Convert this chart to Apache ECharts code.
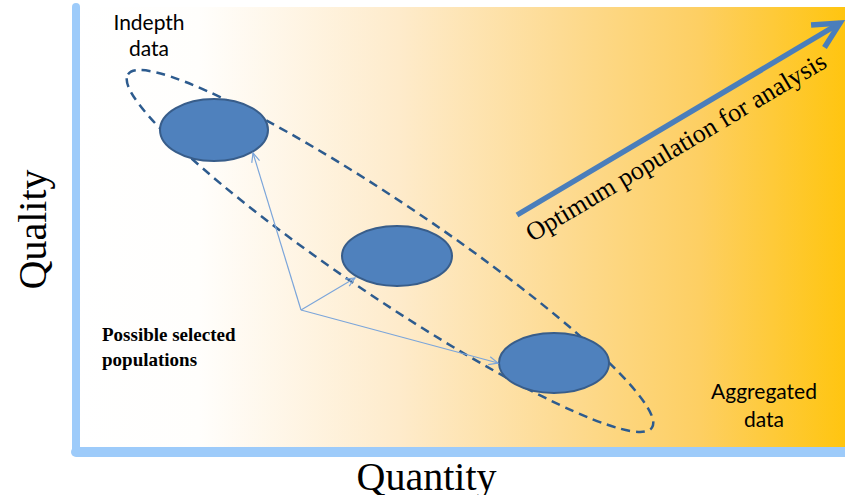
<!DOCTYPE html>
<html><head><meta charset="utf-8">
<script src="https://cdn.jsdelivr.net/npm/echarts@6/dist/echarts.min.js"></script>
<style>html,body{margin:0;padding:0;background:#fff}#c{width:845px;height:495px}</style>
</head><body><div id="c"></div>
<script>
// ---- data (Quantity, Quality in plot units) ----
const populationNames = ['Indepth data', 'Intermediate', 'Aggregated data'];
const populationQuantity = [133, 316, 473];
const populationQuality = [317, 191, 84];
const populationHalfWidth = [54, 55, 55];
const populationHalfHeight = [31, 30, 30];

const envelopeCenter = [309, 196];
const envelopeHalfAxes = [316, 47];
const envelopeTiltDeg = 34;

const selectionOrigin = [220, 137];
const selectionTargetQuantity = [172, 274, 417];
const selectionTargetQuality = [294, 169, 84];

const optimumStart = [436, 232];
const optimumEnd = [759, 424];
const optimumLabel = 'Optimum population for analysis';
const optimumLabelAt = [595, 300];

const noteTexts = ['Indepth\ndata', 'Possible selected\npopulations', 'Aggregated\ndata'];
const noteQuantity = [68, 21, 683];
const noteQuality = [413, 100, 43];

const axisNames = ['Quantity', 'Quality'];

// ---- chart ----
const chart = echarts.init(document.getElementById('c'), null, {renderer: 'svg'});

function arrow(p0, p1, head, spread, color, width) {
  const ang = Math.atan2(p1[1] - p0[1], p1[0] - p0[0]);
  const a1 = [p1[0] - head * Math.cos(ang - spread), p1[1] - head * Math.sin(ang - spread)];
  const a2 = [p1[0] - head * Math.cos(ang + spread), p1[1] - head * Math.sin(ang + spread)];
  return {type: 'group', children: [
    {type: 'line', shape: {x1: p0[0], y1: p0[1], x2: p1[0], y2: p1[1]}, style: {stroke: color, lineWidth: width}},
    {type: 'polyline', shape: {points: [a1, p1, a2]}, style: {stroke: color, lineWidth: width, fill: null, lineJoin: 'miter'}}
  ]};
}

const noteStyles = [
  {fontFamily: 'Lato, "Open Sans", sans-serif', fontSize: 21, fontWeight: 'normal', align: 'center', lineHeight: 26},
  {fontFamily: '"Liberation Serif", serif', fontSize: 19, fontWeight: 'bold', align: 'left', lineHeight: 25},
  {fontFamily: 'Lato, "Open Sans", sans-serif', fontSize: 21, fontWeight: 'normal', align: 'center', lineHeight: 28}
];

const option = {
  animation: false,
  grid: {
    left: 76, right: 0, top: 7, bottom: 43, show: true, borderWidth: 0,
    outerBoundsMode: 'none', containLabel: false,
    backgroundColor: {type: 'linear', x: 0, y: 0, x2: 1, y2: 0, colorStops: [
      {offset: 0, color: '#FFFFFF'}, {offset: 0.16, color: '#FFFEFC'},
      {offset: 0.42, color: '#FEEBCB'}, {offset: 0.63, color: '#FDDB93'},
      {offset: 0.81, color: '#FDCF63'}, {offset: 1, color: '#FFC510'}]}
  },
  xAxis: {
    type: 'value', min: -5, max: 764,
    axisLine: {show: true, onZero: false, lineStyle: {color: '#9DCBFA', width: 10}},
    axisTick: {show: false}, axisLabel: {show: false}, splitLine: {show: false},
    name: axisNames[0], nameLocation: 'middle', nameGap: 4,
    nameTextStyle: {fontFamily: '"Liberation Serif", serif', fontSize: 40, color: '#000', padding: [0, 68, 0, 0]}
  },
  yAxis: {
    type: 'value', min: -5, max: 440,
    axisLine: {show: true, onZero: false, lineStyle: {color: '#9DCBFA', width: 8}},
    axisTick: {show: false}, axisLabel: {show: false}, splitLine: {show: false},
    name: axisNames[1], nameLocation: 'middle', nameGap: 24,
    nameTextStyle: {fontFamily: '"Liberation Serif", serif', fontSize: 40, color: '#000'}
  },
  series: [
    { // dashed envelope
      type: 'custom', silent: true, z: 2,
      data: [[envelopeCenter[0], envelopeCenter[1], envelopeHalfAxes[0], envelopeHalfAxes[1], envelopeTiltDeg]],
      renderItem: (params, api) => {
        const c = api.coord([api.value(0), api.value(1)]);
        const s = api.size([api.value(2), api.value(3)]);
        return {type: 'ellipse', x: c[0], y: c[1], rotation: -api.value(4) * Math.PI / 180,
          shape: {cx: 0, cy: 0, rx: s[0], ry: s[1]},
          style: {fill: null, stroke: '#2D5B8E', lineWidth: 2.5, lineDash: [9, 6]}};
      }
    },
    { // populations
      type: 'custom', silent: true, z: 3,
      data: populationNames.map((n, i) => [populationQuantity[i], populationQuality[i], populationHalfWidth[i], populationHalfHeight[i]]),
      renderItem: (params, api) => {
        const c = api.coord([api.value(0), api.value(1)]);
        const s = api.size([api.value(2), api.value(3)]);
        return {type: 'ellipse', shape: {cx: c[0], cy: c[1], rx: s[0], ry: s[1]},
          style: {fill: '#4F81BD', stroke: '#385D8A', lineWidth: 2}};
      }
    },
    { // selection arrows
      type: 'custom', silent: true, z: 4,
      data: selectionTargetQuantity.map((q, i) => [selectionOrigin[0], selectionOrigin[1], q, selectionTargetQuality[i]]),
      renderItem: (params, api) => {
        const p0 = api.coord([api.value(0), api.value(1)]);
        const p1 = api.coord([api.value(2), api.value(3)]);
        return arrow(p0, p1, 10, 0.42, '#7BA5DA', 1.2);
      }
    },
    { // optimum arrow + label
      type: 'custom', silent: true, z: 4,
      data: [[optimumStart[0], optimumStart[1], optimumEnd[0], optimumEnd[1], optimumLabelAt[0], optimumLabelAt[1]]],
      renderItem: (params, api) => {
        const p0 = api.coord([api.value(0), api.value(1)]);
        const p1 = api.coord([api.value(2), api.value(3)]);
        const t = api.coord([api.value(4), api.value(5)]);
        const ang = Math.atan2(p1[1] - p0[1], p1[0] - p0[0]);
        const g = arrow(p0, p1, 29, 0.47, '#4A7EBB', 5.5);
        g.children.push({type: 'text', x: t[0], y: t[1], rotation: -ang,
          style: {text: optimumLabel, fontFamily: '"Liberation Serif", serif', fontSize: 26, fill: '#000',
            align: 'center', verticalAlign: 'middle'}});
        return g;
      }
    },
    { // notes
      type: 'custom', silent: true, z: 5,
      data: noteTexts.map((t, i) => [noteQuantity[i], noteQuality[i]]),
      renderItem: (params, api) => {
        const c = api.coord([api.value(0), api.value(1)]);
        const st = noteStyles[params.dataIndex];
        return {type: 'text', x: c[0], y: c[1],
          style: {text: noteTexts[params.dataIndex], fill: '#000', fontFamily: st.fontFamily, fontSize: st.fontSize,
            fontWeight: st.fontWeight, lineHeight: st.lineHeight, align: st.align, verticalAlign: 'middle'}};
      }
    }
  ]
};
chart.setOption(option);
</script>
</body></html>
